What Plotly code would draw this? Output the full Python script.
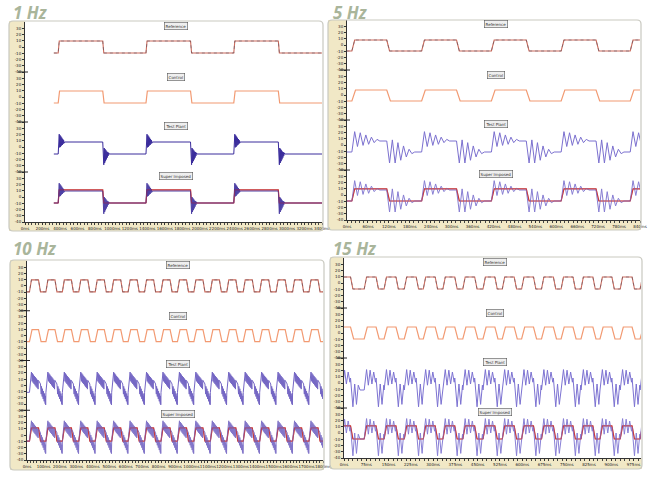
import plotly.graph_objects as go

# the page margin is removed by a small post-script so the figure fills the window
PAGE_MARGIN = 0
W, H = 650, 479

# ---------------- data ----------------
titles = ["1 Hz", "5 Hz", "10 Hz", "15 Hz"]
channel_names = ["Reference", "Control", "Test Plant", "Super Imposed"]

# visible time span of each panel (ms)
t_end = [3400, 840, 1800, 1000]

# rising-edge times of the square drive signal (ms)
rise_1hz = [380, 1385, 2390]
rise_5hz = [14, 214, 414, 614, 812]
rise_10hz = [15, 115, 215, 315, 415, 515, 615, 715, 815, 915,
             1015, 1115, 1215, 1315, 1415, 1515, 1615, 1715]
rise_15hz = [-18, 68, 135, 203, 267, 333, 400, 468, 533, 598,
             665, 731, 798, 862, 930, 997]
rises = [rise_1hz, rise_5hz, rise_10hz, rise_15hz]

# time spent high in every cycle (ms) and edge duration (ms)
high_ms = [510, 100, 55, 40]
slope_ms = [12, 8, 12, 8]

# channel base (low) levels and step height, in screen units (0..100)
ref_low, ctl_low, test_low, both_low = 84.5, 59.5, 34.0, 9.5
step = [6.0, 5.5, 6.0, 6.0]

# test-plant response: successive extremes after an edge (in steps, relative to the new level)
ring_rise_1hz = [0.65, -0.45, 0.55, -0.4, 0.45, -0.3, 0.35, -0.25, 0.25, -0.15, 0.15, -0.1]
ring_fall_1hz = [-0.9, 0.5, -0.75, 0.4, -0.6, 0.3, -0.45, 0.2, -0.3, 0.15, -0.15, 0.1]
ring_rise_5hz = [0.85, -0.5, 0.75, -0.4, 0.55, -0.3, 0.35, -0.15, 0.15]
ring_fall_5hz = [-1.0, 1.1, -1.0, 0.85, -0.75, 0.55, -0.45, 0.25, -0.15]
ring_rise_10hz = [0.70, -0.03, 0.65, -0.08, 0.59, -0.14, 0.54, -0.19, 0.48, -0.24,
                  0.43, -0.30, 0.37, -0.35, 0.32, -0.41, 0.27, -0.46, 0.21, -0.52,
                  0.16, -0.57, 0.10, -0.62, 0.05, -0.68, -0.01, -0.73, -0.06]
ring_fall_10hz = [0.70, -0.05, 0.60, -0.15, 0.50, -0.25, 0.40, -0.35, 0.30, -0.45, 0.20,
                  -0.55, 0.10, -0.65, 0.0, -0.75, -0.10, -0.85, -0.20, -0.95, -0.30, -1.05]
ring_rise_15hz = [0.7, -0.6, 0.65, -0.5, 0.5, -0.35]
ring_fall_15hz = [-1.4, 0.5, -1.2, 0.4]
ring_rise = [ring_rise_1hz, ring_rise_5hz, ring_rise_10hz, ring_rise_15hz]
ring_fall = [ring_fall_1hz, ring_fall_5hz, ring_fall_10hz, ring_fall_15hz]
ring_dt = [5, 8, 1.5, 6]

# axis tick settings
x_dtick = [200, 60, 100, 75]
y_tick_text = ["-40", "-30", "-20", "-10", "0", "10", "20", "30"]

# ---------------- styling / geometry ----------------
title_color = "#a9b59b"
ref_color = "#cc6b5c"
ref_dark = "#5a5060"
ctl_color = "#f29a72"
both_red = "#c83a3c"
test_colors = ["#3a2c9c", "#7b70cf", "#7466c4", "#7c72d2"]
strip_color = "#f1e8c6"

# window-pixel boxes: (plot_left, plot_top, plot_right, plot_bottom, outer_left, outer_top, outer_right, outer_bottom)
boxes = [
    (25, 22, 322, 222, 9, 21, 323, 231),
    (347, 20, 640, 220, 328, 20, 641, 230),
    (27, 261, 323, 460, 10, 260, 324, 470),
    (344, 258, 641, 458, 330, 257, 642, 469),
]
title_pos = [(11, 12), (331, 12), (11, 249), (331, 249)]


def px(x):
    return (x - PAGE_MARGIN) / W


def py(y):
    return 1 - (y - PAGE_MARGIN) / H


def events(rs, high):
    ev = []
    for r in rs:
        ev.append((r, 1))
        ev.append((r + high, 0))
    return sorted(ev)


def square(ev, slope, tend, low, amp):
    xs, ys = [ev[0][0] - 50], [low]
    state = 0
    for t, s in ev:
        prev = low + state * amp
        new = low + s * amp
        xs += [t, t + slope]
        ys += [prev, new]
        state = s
    xs.append(tend + 50)
    ys.append(low + state * amp)
    return xs, ys


def ringing(ev, slope, tend, low, amp, rr, rf, dt):
    xs, ys = [ev[0][0] - 50], [low]
    state = 0
    for i, (t, s) in enumerate(ev):
        nxt = ev[i + 1][0] if i + 1 < len(ev) else tend + 50
        prev = low + state * amp
        new = low + s * amp
        xs.append(t)
        ys.append(prev)
        ring = rr if s else rf
        tk = t + slope
        for r in ring:
            if tk >= nxt:
                break
            xs.append(tk)
            ys.append(new + r * amp)
            tk += dt
        if tk < nxt:
            xs.append(tk)
            ys.append(new)
        state = s
    xs.append(tend + 50)
    ys.append(low + state * amp)
    return xs, ys


fig = go.Figure()
shapes = []
annotations = []

for i in range(4):
    pl, pt, pr, pb, ol, ot, orr, ob = boxes[i]
    ax = "" if i == 0 else str(i + 1)
    xa, ya = "x" + ax, "y" + ax
    amp = step[i]
    ev = events(rises[i], high_ms[i])

    # reference
    x, y = square(ev, slope_ms[i], t_end[i], ref_low, amp)
    fig.add_trace(go.Scatter(x=x, y=y, mode="lines", line=dict(color=ref_color, width=1.1),
                             xaxis=xa, yaxis=ya, hoverinfo="skip"))
    fig.add_trace(go.Scatter(x=x, y=y, mode="lines", line=dict(color=ref_dark, width=1, dash="dot"),
                             opacity=0.55, xaxis=xa, yaxis=ya, hoverinfo="skip"))
    # control
    x, y = square(ev, slope_ms[i] * 1.3, t_end[i], ctl_low, amp)
    fig.add_trace(go.Scatter(x=x, y=y, mode="lines", line=dict(color=ctl_color, width=1.2),
                             xaxis=xa, yaxis=ya, hoverinfo="skip"))
    # test plant
    x, y = ringing(ev, slope_ms[i], t_end[i], test_low, amp, ring_rise[i], ring_fall[i], ring_dt[i])
    fig.add_trace(go.Scatter(x=x, y=y, mode="lines", line=dict(color=test_colors[i], width=1),
                             xaxis=xa, yaxis=ya, hoverinfo="skip"))
    # superimposed: reference (red) + test plant
    x, y = square(ev, slope_ms[i], t_end[i], both_low, amp + 0.6)
    fig.add_trace(go.Scatter(x=x, y=y, mode="lines", line=dict(color=both_red, width=1.2),
                             xaxis=xa, yaxis=ya, hoverinfo="skip"))
    x, y = ringing(ev, slope_ms[i], t_end[i], both_low, amp, ring_rise[i], ring_fall[i], ring_dt[i])
    fig.add_trace(go.Scatter(x=x, y=y, mode="lines", line=dict(color=test_colors[i], width=1),
                             opacity=0.9, xaxis=xa, yaxis=ya, hoverinfo="skip"))
    x, y = square(ev, slope_ms[i], t_end[i], both_low, amp + 0.6)
    fig.add_trace(go.Scatter(x=x, y=y, mode="lines", line=dict(color=both_red, width=0.8),
                             opacity=0.55, xaxis=xa, yaxis=ya, hoverinfo="skip"))

    tickvals = [k * 3.125 for k in range(32)]
    ticktext = y_tick_text * 4

    fig.layout["xaxis" + ax] = dict(
        domain=[px(pl), px(pr)], range=[0, t_end[i]], anchor=ya, automargin=False,
        showgrid=False, zeroline=False, showline=True, linecolor="#333", linewidth=1,
        tickmode="linear", tick0=0, dtick=x_dtick[i], ticksuffix="ms", tickangle=0,
        ticks="outside", ticklen=2, tickcolor="#333",
        tickfont=dict(size=4, color="#222", family="DejaVu Sans"),
        minor=dict(ticks="outside", ticklen=1.5, dtick=x_dtick[i] / 5, tickcolor="#444"),
        fixedrange=True,
    )
    fig.layout["yaxis" + ax] = dict(
        domain=[py(pb), py(pt)], range=[0, 100], anchor=xa, automargin=False,
        showgrid=False, zeroline=False, showline=True, linecolor="#333", linewidth=1,
        tickmode="array", tickvals=tickvals, ticktext=ticktext,
        ticks="outside", ticklen=2, tickcolor="#333",
        tickfont=dict(size=4, color="#222", family="DejaVu Sans"),
        fixedrange=True,
    )

    # beige strips
    shapes.append(dict(type="rect", xref="paper", yref="paper", layer="below",
                       x0=px(ol), x1=px(pl), y0=py(ob), y1=py(ot),
                       fillcolor=strip_color, line=dict(width=0)))
    shapes.append(dict(type="rect", xref="paper", yref="paper", layer="below",
                       x0=px(pl), x1=px(orr), y0=py(ob), y1=py(pb),
                       fillcolor=strip_color, line=dict(width=0)))
    # rounded outer frame
    r = 4
    path = (f"M {px(ol + r)},{py(ot)} L {px(orr - r)},{py(ot)} Q {px(orr)},{py(ot)} {px(orr)},{py(ot + r)} "
            f"L {px(orr)},{py(ob - r)} Q {px(orr)},{py(ob)} {px(orr - r)},{py(ob)} "
            f"L {px(ol + r)},{py(ob)} Q {px(ol)},{py(ob)} {px(ol)},{py(ob - r)} "
            f"L {px(ol)},{py(ot + r)} Q {px(ol)},{py(ot)} {px(ol + r)},{py(ot)} Z")
    shapes.append(dict(type="path", xref="paper", yref="paper", path=path,
                       line=dict(color="#c9c9c0", width=1.2), fillcolor="rgba(0,0,0,0)"))
    # channel division marks on the left axis
    for dv in (25, 50, 75):
        yy = pb - (pb - pt) * dv / 100
        shapes.append(dict(type="line", xref="paper", yref="paper",
                           x0=px(pl - 7), x1=px(pl + 3), y0=py(yy), y1=py(yy),
                           line=dict(color="#222", width=1)))

    # channel label boxes
    for name, ly in zip(channel_names, [98, 72.5, 48, 23]):
        annotations.append(dict(x=0.51 * t_end[i], y=ly, xref=xa, yref=ya, text=name,
                                showarrow=False, font=dict(size=4, color="#333", family="DejaVu Sans"),
                                bgcolor="#efefef", bordercolor="#555", borderwidth=0.6, borderpad=1))
    # panel title
    tx, ty = title_pos[i]
    annotations.append(dict(x=px(tx), y=py(ty), xref="paper", yref="paper", text=f"<b><i>{titles[i]}</i></b>",
                            showarrow=False, xanchor="left", yanchor="middle",
                            font=dict(size=17, color=title_color, family="Open Sans")))

fig.update_layout(
    width=W, height=H, margin=dict(l=0, r=0, t=0, b=0),
    paper_bgcolor="white", plot_bgcolor="white",
    showlegend=False, shapes=shapes, annotations=annotations,
)

fig.write_html(
    "out.html",
    config={"displayModeBar": False},
    post_script="document.body.style.margin='0';document.body.style.overflow='hidden';",
)
